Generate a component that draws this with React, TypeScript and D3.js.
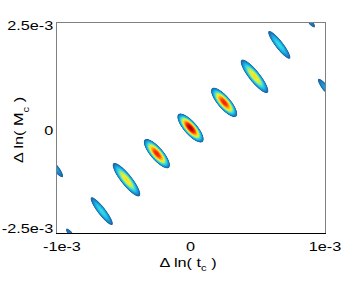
import React from "react";
import * as d3 from "d3";

// axis ticks
const tcTicks = [-1e-3, 0, 1e-3];
const tcTickLabels = ["-1e-3", "0", "1e-3"];
const mcTicks = [-2.5e-3, 0, 2.5e-3];
const mcTickLabels = ["-2.5e-3", "0", "2.5e-3"];

// likelihood peaks
const peakTc = [-0.86e-3, -0.66e-3, -0.476e-3, -0.25e-3, 0, 0.25e-3, 0.476e-3, 0.66e-3, 0.86e-3, -1.007e-3, 1.007e-3];
const peakMc = [-2.66e-3, -1.98e-3, -1.23e-3, -0.61e-3, 0, 0.61e-3, 1.23e-3, 1.98e-3, 2.66e-3, -0.936e-3, 0.936e-3];
const peakHeight = [0.3, 0.4, 0.62, 0.88, 1.0, 0.88, 0.62, 0.4, 0.3, 0.3, 0.3];
const peakSpreadAlong = [0.27e-3, 0.27e-3, 0.26e-3, 0.2e-3, 0.19e-3, 0.2e-3, 0.26e-3, 0.27e-3, 0.27e-3, 0.24e-3, 0.24e-3];
const peakSpreadAcross = [0.026e-3, 0.027e-3, 0.031e-3, 0.032e-3, 0.032e-3, 0.032e-3, 0.031e-3, 0.027e-3, 0.026e-3, 0.027e-3, 0.027e-3];
const ridgeSlope = -4.4; // dMc / dtc of each blob's long axis

// colour map (jet-like, white below the lowest level)
const colorStops = [0.18, 0.24, 0.3, 0.38, 0.48, 0.58, 0.7, 0.82, 0.92, 1.0];
const colorValues = ["#1f5a9a", "#1b84c4", "#19aee0", "#2ed6e8", "#a8ec70", "#f4f028", "#ffa81a", "#ff3a10", "#dd1000", "#8c0000"];

const width = 360;
const height = 281;
const plot = { left: 56, right: 325, top: 23, bottom: 233 };
const font = "Liberation Sans, Arial, sans-serif";

const App = () => {
  const x = d3.scaleLinear().domain([-1e-3, 1e-3]).range([plot.left, plot.right]);
  const y = d3.scaleLinear().domain([-2.5e-3, 2.5e-3]).range([plot.bottom, plot.top]);

  const nx = plot.right - plot.left;
  const ny = plot.bottom - plot.top;

  const len = Math.hypot(1, ridgeSlope);
  const ux = 1 / len;
  const uy = ridgeSlope / len;

  const values = new Float64Array(nx * ny);
  for (let j = 0; j < ny; j++) {
    const mc = y.invert(plot.top + j + 0.5);
    for (let i = 0; i < nx; i++) {
      const tc = x.invert(plot.left + i + 0.5);
      let v = 0;
      for (let k = 0; k < peakTc.length; k++) {
        const dx = tc - peakTc[k];
        const dy = mc - peakMc[k];
        const a = (dx * ux + dy * uy) / peakSpreadAlong[k];
        const c = (-dx * uy + dy * ux) / peakSpreadAcross[k];
        v += peakHeight[k] * Math.exp(-0.5 * (a * a + c * c));
      }
      values[j * nx + i] = v;
    }
  }

  const step = 0.012;
  const levels = d3.range(colorStops[0], 1.0, step);
  const contours = d3.contours().size([nx, ny]).thresholds(levels)(Array.from(values));
  const color = d3
    .scaleLinear<string>()
    .domain(colorStops)
    .range(colorValues)
    .interpolate(d3.interpolateRgb)
    .clamp(true);
  const path = d3.geoPath();

  const stretch = "scale(1.25,1)";

  return (
    <svg
      width={width}
      height={height}
      style={{ position: "absolute", left: 0, top: 0, background: "#fff" }}
      fontFamily={font}
      fontSize={13}
    >
      <g transform={`translate(${plot.left},${plot.top})`}>
        {contours.map((c, i) => (
          <path key={i} d={path(c) || ""} fill={color(c.value + step / 2)} />
        ))}
      </g>

      {/* frame */}
      <line x1={plot.left + 0.5} x2={plot.left + 0.5} y1={plot.top} y2={plot.bottom} stroke="#808080" />
      <line x1={plot.right + 0.5} x2={plot.right + 0.5} y1={plot.top} y2={plot.bottom} stroke="#808080" />
      <line x1={plot.left} x2={plot.right + 1} y1={plot.top - 0.5} y2={plot.top - 0.5} stroke="#808080" />
      <line x1={plot.left} x2={plot.right + 1} y1={plot.bottom + 0.5} y2={plot.bottom + 0.5} stroke="#000" />

      {/* x ticks */}
      {tcTicks.map((t, i) => (
        <text
          key={i}
          transform={`translate(${i === 0 ? x(t) - 13 : x(t)},${plot.bottom + 18}) ${stretch}`}
          textAnchor={i === 0 ? "start" : "middle"}
        >
          {tcTickLabels[i]}
        </text>
      ))}

      {/* y ticks */}
      {mcTicks.map((t, i) => (
        <text
          key={i}
          transform={`translate(${plot.left - 2.7},${Math.min(y(t) + 7, plot.bottom)}) ${stretch}`}
          textAnchor="end"
        >
          {mcTickLabels[i]}
        </text>
      ))}

      {/* axis labels */}
      <text transform={`translate(188,266.7) ${stretch}`} textAnchor="middle">
        Δ ln( t
        <tspan fontSize={9} dy={4.5}>c</tspan>
        <tspan dy={-4.5}> )</tspan>
      </text>
      <text transform={`translate(22.7,130) rotate(-90) ${stretch}`} textAnchor="middle">
        Δ ln( M
        <tspan fontSize={9} dy={6}>c</tspan>
        <tspan dy={-6}> )</tspan>
      </text>
    </svg>
  );
};

export default App;
